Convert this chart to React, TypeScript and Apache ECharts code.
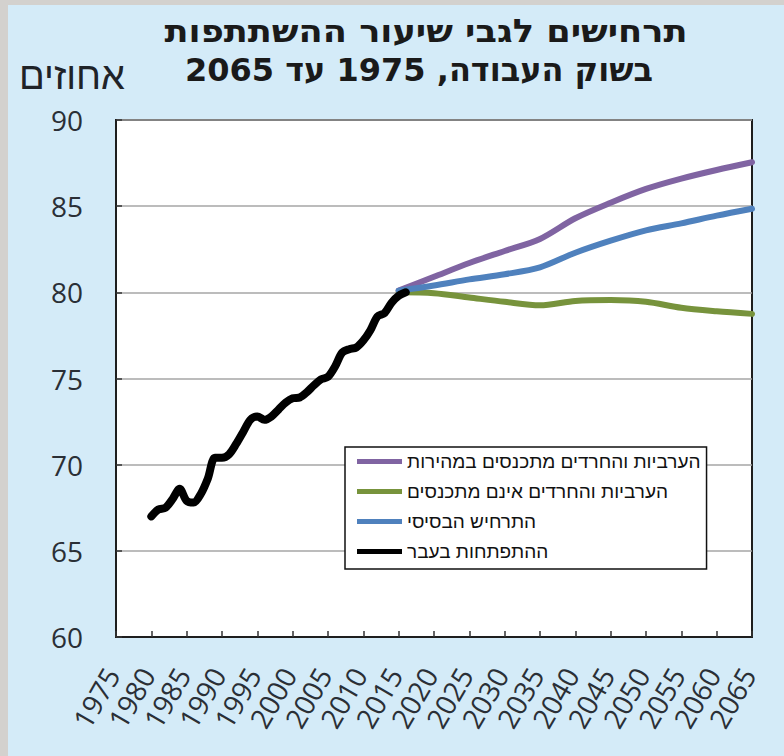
import React, { useEffect, useRef } from "react";
import * as echarts from "echarts";

const titleLine1 = "תרחישים לגבי שיעור ההשתתפות";
const titleLine2 = "בשוק העבודה, 1975 עד 2065";
const yAxisTitle = "אחוזים";

const seriesNames = [
  "הערביות והחרדים מתכנסים במהירות",
  "הערביות והחרדים אינם מתכנסים",
  "התרחיש הבסיסי",
  "ההתפתחות בעבר",
];

const histYears = [
  1980, 1981, 1982, 1983, 1984, 1985, 1986, 1987, 1988, 1989, 1990, 1991, 1992,
  1993, 1994, 1995, 1996, 1997, 1998, 1999, 2000, 2001, 2002, 2003, 2004, 2005,
  2006, 2007, 2008, 2009, 2010, 2011, 2012, 2013, 2014, 2015, 2016,
];
const histValues = [
  67.0, 67.4, 67.5, 68.0, 68.6, 67.9, 67.8, 68.3, 69.2, 70.4, 70.4, 70.6, 71.2,
  71.9, 72.6, 72.8, 72.6, 72.8, 73.2, 73.6, 73.85, 73.9, 74.2, 74.6, 74.95, 75.1,
  75.7, 76.5, 76.7, 76.8, 77.2, 77.8, 78.6, 78.8, 79.4, 79.8, 80.0,
];

const projYears = [2015, 2020, 2025, 2030, 2035, 2040, 2045, 2050, 2055, 2060, 2065];
const fastValues = [80.1, 80.9, 81.7, 82.4, 83.1, 84.3, 85.2, 86.0, 86.6, 87.1, 87.55];
const slowValues = [80.0, 79.95, 79.7, 79.45, 79.25, 79.5, 79.55, 79.45, 79.1, 78.9, 78.75];
const baseValues = [80.1, 80.4, 80.75, 81.05, 81.45, 82.3, 83.0, 83.6, 84.0, 84.45, 84.85];

const seriesColors = ["#8064a2", "#77933c", "#4f81bd", "#000000"];

const pairs = (xs: number[], ys: number[]) => xs.map((x, i) => [x, ys[i]]);

export default function App() {
  const ref = useRef<HTMLDivElement>(null);
  useEffect(() => {
    if (!ref.current) return;
    const chart = echarts.init(ref.current, undefined, { renderer: "svg" });
    const lineSeries = (i: number, data: number[][], width: number, z: number) => ({
      name: seriesNames[i],
      type: "line",
      data,
      showSymbol: false,
      symbol: "none",
      smooth: 0.3,
      z,
      itemStyle: { color: seriesColors[i] },
      lineStyle: { color: seriesColors[i], width, cap: "round", join: "round" },
    });
    chart.setOption({
      animation: false,
      backgroundColor: "#d4ebf8",
      graphic: [
        { type: "rect", shape: { x: 0, y: 0, width: 8, height: 756 }, style: { fill: "#d3d1ce" } },
        { type: "rect", shape: { x: 0, y: 0, width: 784, height: 5 }, style: { fill: "#d3d1ce" } },
        {
          type: "text",
          x: 426,
          y: 31,
          scaleX: 1.1,
          style: {
            text: titleLine1,
            font: "bold 32px 'DejaVu Sans'",
            fill: "#1a1a1a",
            textAlign: "center",
            textVerticalAlign: "middle",
          },
        },
        {
          type: "text",
          x: 419,
          y: 70,
          style: {
            text: titleLine2,
            font: "bold 32px 'DejaVu Sans'",
            fill: "#1a1a1a",
            textAlign: "center",
            textVerticalAlign: "middle",
          },
        },
        {
          type: "text",
          x: 72,
          y: 76,
          style: {
            text: yAxisTitle,
            font: "38px 'Liberation Sans'",
            fill: "#1f2328",
            textAlign: "center",
            textVerticalAlign: "middle",
          },
        },
      ],
      grid: {
        left: 116,
        top: 120,
        width: 636,
        height: 517,
        show: true,
        backgroundColor: "#ffffff",
        borderColor: "#1e1e1e",
        borderWidth: 2,
      },
      legend: {
        show: true,
        orient: "vertical",
        left: 345,
        top: 447,
        data: seriesNames,
        icon: "rect",
        itemWidth: 45,
        itemHeight: 5,
        itemGap: 11,
        padding: [5, 6, 8, 12],
        backgroundColor: "#ffffff",
        borderColor: "#111111",
        borderWidth: 1.5,
        textStyle: {
          fontSize: 19,
          lineHeight: 19,
          fontFamily: "'Liberation Sans'",
          color: "#111111",
        },
      },
      xAxis: {
        type: "value",
        min: 1975,
        max: 2065,
        interval: 5,
        axisLine: { show: true, lineStyle: { color: "#1e1e1e", width: 2 } },
        axisTick: { show: true, inside: true, length: 6, lineStyle: { color: "#333", width: 1.5 } },
        splitLine: { show: false },
        axisLabel: {
          rotate: 60,
          fontSize: 28,
          fontFamily: "'Open Sans'",
          color: "#2a2f36",
          margin: 26,
          padding: [0, 8, 0, 0],
          showMinLabel: true,
          showMaxLabel: true,
          formatter: (v: number) => String(v),
        },
      },
      yAxis: {
        type: "value",
        min: 60,
        max: 90,
        interval: 5,
        axisLine: { show: true, lineStyle: { color: "#1e1e1e", width: 2 } },
        axisTick: { show: true, inside: true, length: 6, lineStyle: { color: "#333", width: 1.5 } },
        splitLine: { show: true, lineStyle: { color: "#a6a6a6", width: 1.5 } },
        axisLabel: {
          fontSize: 28,
          fontFamily: "'Open Sans'",
          color: "#2a2f36",
          margin: 33,
        },
      },
      series: [
        lineSeries(0, pairs(projYears, fastValues), 6, 3),
        lineSeries(1, pairs(projYears, slowValues), 6, 3),
        lineSeries(2, pairs(projYears, baseValues), 6, 4),
        lineSeries(3, pairs(histYears, histValues), 8, 5),
      ],
    });
    return () => chart.dispose();
  }, []);
  return (
    <div
      ref={ref}
      style={{ position: "absolute", left: 0, top: 0, width: 784, height: 756 }}
    />
  );
}
